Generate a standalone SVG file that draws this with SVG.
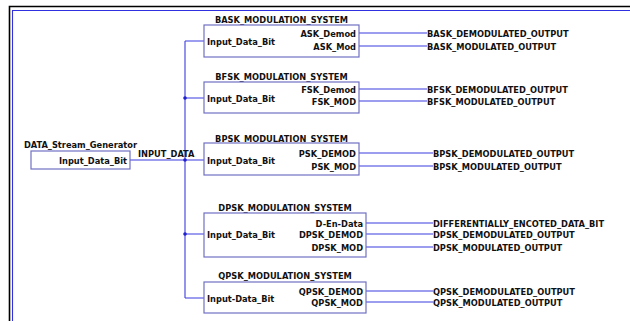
<svg xmlns="http://www.w3.org/2000/svg" width="630" height="321" viewBox="0 0 630 321">
<style>
text{font-family:"DejaVu Sans Condensed","DejaVu Sans",sans-serif;font-stretch:condensed;font-weight:bold;font-size:9.2px;fill:#111}
.t{text-anchor:middle}
.r{text-anchor:end}
.box{fill:#fff;stroke:#7070c4;stroke-width:1.2}
.w{fill:none;stroke:#3c3ce0;stroke-width:1.1}
.dot{fill:#2020d0}
</style>
<rect width="630" height="321" fill="#fff"/>
<g id="frame">
<path d="M9.5,321V6.5H630" fill="none" stroke="#000" stroke-width="1.6"/>
<path d="M12.5,321V10.5H630" fill="none" stroke="#3030e0" stroke-width="1.1"/>
</g>
<g id="connectors">
<path class="w" d="M185,41V298M130,160H204M185,41H204M185,98H204M185,234H204M185,298H204"/>
<path class="w" d="M359,33H427M359,46H427M359,89H427M359,101H427M359,153H433M359,166H433M366,223H433M366,234H433M366,247H433M366,291H433M366,302H433"/>
<circle class="dot" cx="185" cy="98" r="1.8"/>
<circle class="dot" cx="185" cy="160" r="1.8"/>
<circle class="dot" cx="185" cy="234" r="1.8"/>
<text x="138" y="157">INPUT_DATA</text>
</g>
<g id="generator">
<text class="t" x="80.5" y="148">DATA_Stream_Generator</text>
<rect class="box" x="31" y="151" width="99" height="18"/>
<text class="r" x="127" y="163.5">Input_Data_Bit</text>
</g>
<g id="bask">
<text class="t" x="281.5" y="23">BASK_MODULATION_SYSTEM</text>
<rect class="box" x="204" y="25" width="155" height="32"/>
<text x="207" y="45">Input_Data_Bit</text>
<text class="r" x="356" y="36.5">ASK_Demod</text>
<text class="r" x="356" y="49.5">ASK_Mod</text>
</g>
<g id="bfsk">
<text class="t" x="281.5" y="79.5">BFSK_MODULATION_SYSTEM</text>
<rect class="box" x="204" y="82" width="155" height="31"/>
<text x="207" y="102">Input_Data_Bit</text>
<text class="r" x="356" y="92.5">FSK_Demod</text>
<text class="r" x="356" y="104.5">FSK_MOD</text>
</g>
<g id="bpsk">
<text class="t" x="281.5" y="142">BPSK_MODULATION_SYSTEM</text>
<rect class="box" x="204" y="143" width="155" height="32"/>
<text x="207" y="164">Input_Data_Bit</text>
<text class="r" x="356" y="156.5">PSK_DEMOD</text>
<text class="r" x="356" y="169.5">PSK_MOD</text>
</g>
<g id="dpsk">
<text class="t" x="285" y="210.5">DPSK_MODULATION_SYSTEM</text>
<rect class="box" x="204" y="213" width="162" height="44"/>
<text x="207" y="238">Input_Data_Bit</text>
<text class="r" x="363" y="226.5">D-En-Data</text>
<text class="r" x="363" y="237.5">DPSK_DEMOD</text>
<text class="r" x="363" y="250.5">DPSK_MOD</text>
</g>
<g id="qpsk">
<text class="t" x="285" y="279">QPSK_MODULATION_SYSTEM</text>
<rect class="box" x="204" y="282" width="162" height="31"/>
<text x="207" y="302">Input-Data_Bit</text>
<text class="r" x="363" y="294.5">QPSK_DEMOD</text>
<text class="r" x="363" y="305.5">QPSK_MOD</text>
</g>
<g id="outputs">
<text x="427" y="36.5">BASK_DEMODULATED_OUTPUT</text>
<text x="427" y="49.5">BASK_MODULATED_OUTPUT</text>
<text x="427" y="92.5">BFSK_DEMODULATED_OUTPUT</text>
<text x="427" y="104.5">BFSK_MODULATED_OUTPUT</text>
<text x="433" y="156.5">BPSK_DEMODULATED_OUTPUT</text>
<text x="433" y="169.5">BPSK_MODULATED_OUTPUT</text>
<text x="433" y="226.5">DIFFERENTIALLY_ENCOTED_DATA_BIT</text>
<text x="433" y="237.5">DPSK_DEMODULATED_OUTPUT</text>
<text x="433" y="250.5">DPSK_MODULATED_OUTPUT</text>
<text x="433" y="294.5">QPSK_DEMODULATED_OUTPUT</text>
<text x="433" y="305.5">QPSK_MODULATED_OUTPUT</text>
</g>
</svg>
